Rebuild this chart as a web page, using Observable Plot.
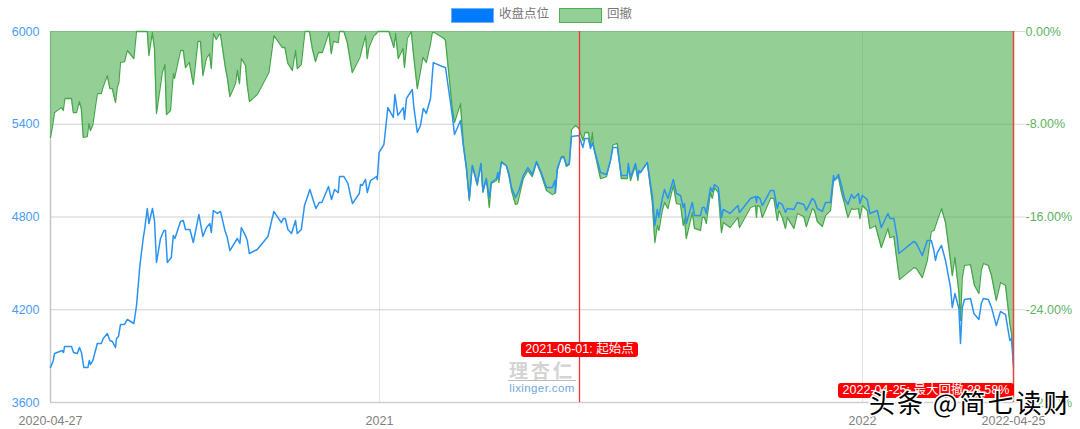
<!DOCTYPE html>
<html><head><meta charset="utf-8">
<script src="https://cdn.jsdelivr.net/npm/d3@7"></script>
<script src="https://cdn.jsdelivr.net/npm/@observablehq/plot@0.6"></script>
<style>
html,body{margin:0;padding:0;background:#fff;overflow:hidden}
#wrap{position:relative;width:1080px;height:429px;font-family:"Liberation Sans","Noto Sans CJK SC",sans-serif}
#wrap svg{display:block;position:absolute;left:0;top:0}
.a{position:absolute;white-space:nowrap}
.sw{height:13px;width:41px;box-sizing:content-box}
.lt{font-size:12.5px;color:#777;line-height:14px}
.flag{background:#f00;color:#fff;font-size:12.5px;border-radius:3px;text-align:center;line-height:15px;height:15px}
</style></head><body><div id="wrap"></div>
<script>
// Trading-session index along the category axis, and closing level
const closeSession=[0,1.4,2,5.9,6.5,7,10.5,11.5,13.4,14.5,15.5,16.7,18.7,19.4,20,21.2,23.4,25.4,26.4,28.4,29.7,30.9,32.5,33,34,35,37,38.4,41.7,43,44.7,46.4,47,48.4,49.2,51,52,53,55,56.7,57.5,58.4,60.4,61.4,62.2,65,66.4,67.5,69.7,71.4,74.2,76.2,78,79.7,80.4,81.4,83.4,85,87.2,88.4,89.7,93.4,94.7,95.4,97.5,98.4,99.4,103.4,108.7,111.7,115.4,116.4,117.4,118.7,120.5,122.5,123.4,125.4,127,129.7,131.4,132.7,134.4,135.7,139,140.5,142,143.9,144.5,146.7,148.7,150,151,154.4,155,155.9,157.5,158.4,160,163,163.4,164.3,166.7,168.7,171.4,172.2,173.7,176.4,177,178,180.9,181.7,183.4,185,186.4,187.9,190,191.4,195.9,197.5,200.9,202,205,206.4,207.9,209.4,210.9,213.4,215.2,216.2,217.9,219.4,220.4,223,223.7,224.2,225.4,227.9,229.2,230.5,232.5,234.2,236.4,238.7,240.9,243,245,248,250.9,252.2,252.5,253.4,255.4,256.7,258,259.4,260.5,264.2,266.2,267.2,269,270,271,275,278,280,281.2,283.4,285.4,288.4,288.9,290,292.5,293.7,294.2,295,298.4,300.9,302.2,303.4,304.2,305.9,307,308.7,311.4,313,315,316.4,317,317.9,320.9,322,325,325.9,327,327.9,330,330.9,332,333.9,335.5,336.4,339.7,343.7,344.5,350,352.5,353,353.4,354.7,355.9,360,361.7,363.4,364.2,365.9,367.5,368.4,371.7,373.4,376.7,377.9,380.9,382,383.4,385.9,387.5,390,391.5,392,394,395.5,397,398.7,400.5,401.7,404,404.7,405.9,408.4,409.7,413.4,415.4,418.7,419.7,421.7,423.4,424.2,431.7,432.9,435.9,438.4,440.4,441.7,442.5,443.4,445.5,447.5,450,450.9,452.2,454.2,455,455.9,457,460,461.7,464.2,465.4,466.4,468.9,470.5,472.9,475,477.5,479.7,480.5,481.5];
const closeLevel=[3826,3872,3917,3936,3923,3962,3962,3923,3917,3956,3923,3826,3826,3872,3846,3872,3982,3982,4014,4046,4001,3995,3956,4014,4027,4105,4105,4137,4111,4227,4486,4667,4713,4855,4758,4855,4777,4506,4661,4713,4713,4506,4538,4680,4661,4771,4777,4719,4719,4635,4816,4674,4732,4758,4700,4842,4823,4836,4713,4667,4583,4661,4629,4732,4680,4648,4564,4590,4674,4836,4764,4790,4790,4719,4693,4777,4693,4719,4874,4978,4907,4855,4894,4894,4997,4913,4978,4958,5062,5062,5017,4939,4887,4952,5010,5004,5043,4958,5036,5062,5043,5217,5269,5508,5444,5592,5457,5508,5431,5567,5625,5508,5347,5392,5502,5470,5567,5799,5774,5767,5457,5334,5424,5263,5120,4920,5133,5017,5146,4971,5049,4926,5023,5049,5088,5049,5153,5133,5081,4991,4926,4971,5068,5120,5075,5159,5101,4991,4991,5036,4958,5114,5185,5185,5133,5146,5321,5327,5250,5308,5308,5243,5282,5088,5075,5166,5250,5250,5068,5068,5146,5056,5146,5056,5101,5088,5153,4939,4745,4849,4797,4920,4978,4920,5043,4952,4939,4861,4887,4758,4894,4810,4810,4861,4861,4823,4991,4965,5010,4991,4797,4849,4823,4874,4829,4920,4933,4894,4933,4920,4874,4971,4971,4855,4894,4881,4829,4855,4849,4894,4881,4842,4920,4907,4855,4836,4894,4894,5068,5036,5075,5004,4920,4881,4946,4920,4952,4887,4939,4913,4823,4842,4732,4823,4790,4790,4661,4564,4642,4629,4551,4648,4648,4583,4519,4570,4616,4519,4344,4215,4305,4208,3982,4215,4266,4273,4176,4137,4240,4273,4266,4215,4098,4189,4169,4001,4014,3826];
// Trading-session index and drawdown in percent
const ddSession=[0,.9,2,5.4,6.4,7.2,10.5,11.4,13,14.4,15.4,16.4,18.4,19.2,20,21.2,23.4,25.4,26.2,28.4,29.7,30.9,32.5,33.4,34.2,35,37,38.4,41.7,43,48.4,49.2,50.9,52,53,55.9,57.2,58,60,61.4,62,65,66.4,67.5,69.4,71.4,73.7,75,76.2,77.9,79.5,80.4,81.4,82.9,84.2,85,87.5,88.4,89.7,92.5,93.4,94.5,95.4,97.5,98.4,99.5,103.4,109.2,111.7,115.9,117.2,118.7,120.9,122.5,123.4,125.4,127.2,129.5,130.9,132.5,133.9,135.9,139.2,140.4,141.4,143.9,144.5,146.7,148.4,149.7,150.9,154.7,155.9,157.5,158.4,159.2,161.7,162.5,163.7,169.2,171.7,172.5,173.9,176.2,177,178.4,180.4,181.4,183.4,186.2,187.9,190,190.9,192,196.7,197.5,200.4,200.9,202,205,206.5,208,209.4,210.9,213.4,215.2,216.2,217.9,219.4,220.4,223,223.7,224.2,225.4,227.9,229.2,230.5,232.5,233.5,236.4,238.7,240.9,243,245,248,250.9,252.2,253.4,255.4,256.7,258,259.4,260.5,262.5,264.2,266.2,267.2,269,270,270.9,271.5,275,278,280,281.2,283.4,285.4,288.4,288.9,290,292.5,293.7,294.2,295,298.4,300.9,302.2,303.4,304.2,305.9,307,308.7,311.4,313,315,316.4,317,317.9,320.9,322,325,325.9,327,327.9,330,330.9,332,333.9,335.5,336.4,339.7,343.7,344.5,350,352.5,353,353.4,354.7,355.9,360,361.7,363.4,364.2,365.9,367.5,368.4,371.7,373.4,376.7,377.9,380.9,382,383.4,385.9,387.5,390,391.5,394,395.5,397,398.7,400.5,401.7,404,404.7,405.9,408.4,409.7,412.5,415.4,418.7,419.7,421.7,422.9,424.5,431.7,432.9,435.9,438.4,440.4,441.7,443.4,445.5,447.5,450,450.9,452.2,454.2,455,455.9,457,460,462,464.2,465.4,466.4,468.9,470.5,472.9,475,477.5,479.7,480.5,481.5];
const ddPercent=[-9.14,-8.28,-6.99,-6.56,-6.81,-5.78,-5.78,-6.99,-6.99,-6.04,-6.64,-9.14,-9.06,-7.94,-8.54,-8.02,-5.35,-5.35,-4.83,-3.8,-4.92,-4.92,-6.12,-4.83,-4.4,-2.67,-2.59,-1.64,-2.33,0,0,-2.07,-.09,-1.47,-7.07,-3.54,-2.85,-7.16,-6.81,-3.62,-4.05,-1.64,-1.64,-3.11,-2.67,-4.57,-.86,-.86,-3.8,-2.33,-1.9,-3.19,-.17,-.69,-.26,-.26,-3.19,-3.97,-5.61,-4.49,-3.36,-4.49,-2.33,-2.93,-4.66,-6.04,-5.43,-3.54,-.35,-1.38,-1.38,-2.76,-3.36,-1.64,-3.19,-2.85,0,0,-1.47,-2.59,-1.81,-1.81,-.09,-1.9,-.86,-.95,0,0,-.95,-2.33,-3.54,-2.24,-1.38,-.35,-2.33,-1.38,-.35,-.26,0,0,-1.38,-.17,-2.33,-1.47,-3.11,-.6,0,-1.81,-4.92,-2.24,-2.67,-1.04,-.09,-.09,-.6,-.78,-5.78,-6.64,-7.85,-6.21,-9.83,-11.82,-14.58,-11.56,-13.28,-11.39,-13.89,-12.68,-15.18,-13.11,-12.85,-12.33,-13.02,-11.21,-11.56,-12.42,-13.71,-14.92,-14.84,-12.68,-11.99,-12.51,-11.3,-12.16,-13.71,-14.06,-13.97,-11.99,-10.78,-10.78,-11.64,-11.47,-8.45,-8.11,-8.37,-9.4,-8.71,-8.71,-9.92,-8.71,-9.92,-12.68,-12.51,-11.13,-9.75,-9.66,-12.68,-12.68,-11.56,-12.85,-11.56,-12.85,-12.16,-12.16,-11.3,-14.75,-18.2,-16.73,-17.16,-15.44,-14.75,-15.27,-13.28,-14.84,-14.92,-16.73,-16.13,-17.85,-15.61,-16.99,-17.16,-16.04,-16.04,-16.56,-13.89,-14.4,-13.46,-13.89,-17.34,-16.47,-16.91,-16.04,-16.91,-15.18,-15.01,-16.04,-15.01,-15.09,-16.04,-14.4,-14.4,-16.3,-15.44,-16.04,-16.99,-16.04,-16.99,-15.7,-15.96,-16.82,-15.27,-15.44,-16.39,-16.82,-15.87,-15.44,-12.85,-12.59,-13.89,-14.84,-16.04,-15.27,-15.35,-15.27,-16.13,-15.01,-15.44,-16.99,-16.73,-18.63,-16.99,-17.77,-17.68,-19.32,-21.39,-20.36,-20.44,-21.22,-19.75,-17.25,-17.16,-16.3,-15.27,-16.47,-19.75,-21.05,-19.49,-22.51,-24.93,-21.22,-20.18,-20.1,-21.91,-22.6,-20.61,-20.01,-20.18,-21.05,-23.2,-21.65,-21.91,-25.19,-26.05,-28.58];
// Axis ticks
const leftTicks=[3600,4200,4800,5400,6000];
const rightTickLabels=["-32.00%","-24.00%","-16.00%","-8.00%","0.00%"];
const xTickSessions=[0,164.5,406,481.5];
const xTickLabels=["2020-04-27","2021","2022","2022-04-25"];
const yearSessions=[164.5,406];
const startSession=264.5, endSession=481.5;
const legendNames=["收盘点位","回撤"];
const startLabel="2021-06-01: 起始点", endLabel="2022-04-25: 最大回撤 28.58%";

const closeRows=closeSession.map((s,i)=>({s,v:closeLevel[i]}));
// The drawdown axis runs 0% to -32% over the same span as 6000 to 3600.
const ddToLevel=p=>6000+p*75;
const ddRows=ddSession.map((s,i)=>({s,v:ddToLevel(ddPercent[i])}));
const font='"Liberation Sans","Noto Sans CJK SC",sans-serif';
const chart=Plot.plot({
  width:1080,height:429,marginLeft:50,marginRight:67,marginTop:31,marginBottom:27,
  style:{background:"transparent",fontFamily:font,fontSize:"12px"},
  x:{domain:[0,481.5],axis:null},
  y:{domain:[3600,6000],axis:null},
  marks:[
    Plot.ruleX(yearSessions,{stroke:"#e3e3e3",strokeWidth:1}),
    Plot.ruleY(leftTicks,{stroke:"#cfcfcf",strokeWidth:1.1}),
    Plot.ruleY([3600],{stroke:"#cfcfcf",strokeWidth:1.6}),
    Plot.ruleX([0],{stroke:"#c4c4c4",strokeWidth:1.4}),
    Plot.axisY({anchor:"left",ticks:leftTicks,tickSize:0,tickPadding:11,label:null,fill:"#4b9cf5",fontSize:12.5,tickFormat:v=>String(v)}),
    Plot.axisY({anchor:"right",ticks:leftTicks,tickSize:11,tickPadding:1,label:null,stroke:"#d8d8d8",fill:"#5cb35f",fontSize:12.5,tickFormat:v=>rightTickLabels[leftTicks.indexOf(v)]}),
    Plot.axisX({anchor:"bottom",ticks:xTickSessions,tickSize:0,tickPadding:14,label:null,fill:"#808080",fontSize:12.5,tickFormat:v=>xTickLabels[xTickSessions.indexOf(v)]}),
    Plot.areaY(ddRows,{x:"s",y1:6000,y2:"v",fill:"#4caf50",fillOpacity:.6}),
    Plot.line(ddRows,{x:"s",y:"v",stroke:"#46a84b",strokeWidth:1.3}),
    Plot.line(closeRows,{x:"s",y:"v",stroke:"#2a93f2",strokeWidth:1.5}),
    Plot.ruleX([startSession],{stroke:"#f5343a",strokeWidth:1.3}),
    Plot.ruleX([endSession],{y1:3600,y2:6000,stroke:"#e8453c",strokeWidth:1.5})
  ]
});
const wrap=document.getElementById("wrap");
wrap.appendChild(chart);
function add(css,cls,text){const d=document.createElement("div");d.className="a "+(cls||"");d.style.cssText=css;if(text)d.textContent=text;wrap.appendChild(d);return d;}
add("left:451px;top:8px;background:#007bff;border:1px solid #6fb1f7;","sw");
add("left:499px;top:7px;","lt",legendNames[0]);
add("left:559px;top:8px;background:#94cf96;border:1px solid #4caf50;","sw");
add("left:607px;top:7px;","lt",legendNames[1]);
add("left:521px;top:342px;width:117px;","flag",startLabel);
add("left:838px;top:383px;width:176px;","flag",endLabel);
add("left:508px;top:359px;width:68px;text-align:center;font-size:19px;line-height:21px;font-weight:700;letter-spacing:3px;color:#d4d4d4;border-bottom:1px solid #bbb;font-family:'Noto Sans CJK SC';","", "理杏仁");
add("left:508px;top:381px;width:68px;text-align:center;font-size:11.5px;line-height:14px;color:#6fa8dc;letter-spacing:.4px;","","lixinger.com");
add("left:869px;top:385px;font-size:26px;line-height:34px;letter-spacing:2px;color:#000;font-family:'Noto Sans CJK SC';-webkit-text-stroke:3px #fff;paint-order:stroke fill;","","头条 @简七读财");
</script></body></html>
